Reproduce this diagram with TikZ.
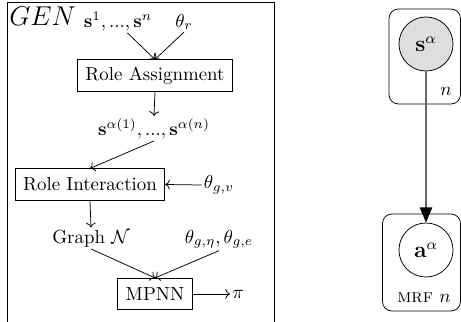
\documentclass[tikz,border=0pt]{standalone}
\usetikzlibrary{arrows.meta,calc}
\begin{document}
\begin{tikzpicture}[x=0.529pt,y=-0.529pt,
  procbox/.style={draw,inner xsep=4.2pt,minimum height=16.6pt},
  lbl/.style={inner sep=1pt},
  flow/.style={->},
  rv/.style={circle,draw,minimum size=28.6pt,inner sep=0pt},
  plate/.style={draw,rounded corners=5pt},
  bnedge/.style={draw=black!60,line width=0.8pt,-{Triangle[length=8pt,width=6.5pt,color=black]}}]
\useasboundingbox (0,0) rectangle (461,321);
% GEN frame
\draw (7,2) -- (274,2) -- (274,330) (7,2) -- (7,330);
\node[inner sep=0pt,anchor=base west] (gen) at (9,25) {\Large $GEN$};
\node[lbl,anchor=base] (s1n) at (118,27) {$\mathbf{s}^1,...,\mathbf{s}^n$};
\node[lbl,anchor=base] (thr) at (184,27) {$\theta_r$};
\node[procbox] (ra) at (155,75.5) {Role Assignment};
\node[lbl,anchor=base] (sa) at (154,135) {$\mathbf{s}^{\alpha(1)},...,\mathbf{s}^{\alpha(n)}$};
\node[procbox] (ri) at (90,184.5) {Role Interaction};
\node[lbl] (thgv) at (219,185) {$\theta_{g,v}$};
\node[lbl,anchor=base] (graph) at (91,243) {Graph $\mathcal{N}$};
\node[lbl,anchor=base] (thge) at (219,243) {$\theta_{g,\eta},\theta_{g,e}$};
\node[procbox] (mpnn) at (155,294) {MPNN};
\node[lbl] (pi) at (238,294) {$\pi$};
\draw[flow] ([xshift=5pt]s1n.south) -- (ra.north);
\draw[flow] (thr.south) -- (ra.north);
\draw[flow] (ra.south) -- (sa.north);
\draw[flow] (sa.south) -- (ri.north);
\draw[flow] (thgv.west) -- (ri.east);
\draw[flow] (ri.south) -- (graph.north);
\draw[flow] (graph.south) -- (mpnn.north);
\draw[flow] (thge.south) -- (mpnn.north);
\draw[flow] (mpnn.east) -- (pi.west);
% plates
\node[rv,fill=black!13] (s) at (426,44) {\large $\mathbf{s}^\alpha$};
\node[rv] (a) at (426,250) {\large $\mathbf{a}^\alpha$};
\draw[plate] (389,9) rectangle (460.5,104);
\draw[plate] (382.5,214) rectangle (460.5,311);
\node[inner sep=0pt,anchor=base] (n1) at (446,95) {$n$};
\node[inner sep=0pt,anchor=base east] (n2) at (451,302) {\textsc{mrf} $n$};
\draw[bnedge] (s) -- (a);
\end{tikzpicture}
\end{document}
